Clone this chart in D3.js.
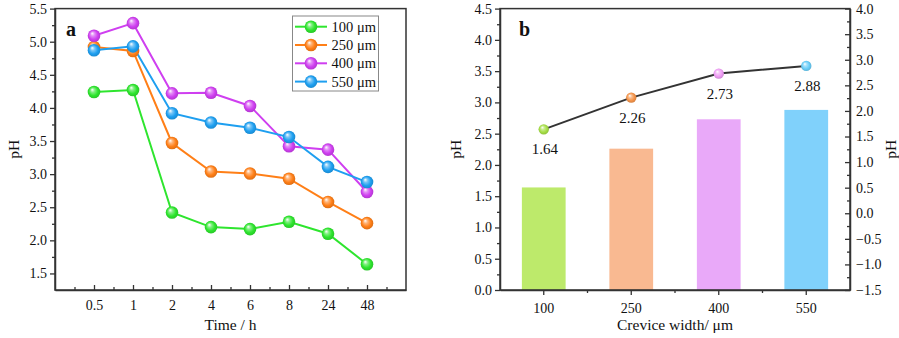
<!DOCTYPE html>
<html><head><meta charset="utf-8">
<script src="https://cdn.jsdelivr.net/npm/d3@7"></script>
<style>
body{margin:0;background:#fff;}
svg, svg text{font-family:"Liberation Serif","Tinos","Times New Roman","DejaVu Serif",serif !important;}
</style></head>
<body><svg id="c" width="899" height="338"></svg>
<script>
// ---------- data ----------
const timeLabels = ["0.5","1","2","4","6","8","24","48"];
const seriesNames = ["100 μm","250 μm","400 μm","550 μm"];
const ph100 = [4.24,4.27,2.42,2.20,2.17,2.28,2.10,1.64];
const ph250 = [4.92,4.86,3.47,3.04,3.01,2.93,2.58,2.26];
const ph400 = [5.09,5.28,4.22,4.23,4.03,3.42,3.37,2.73];
const ph550 = [4.87,4.93,3.92,3.78,3.70,3.56,3.11,2.88];
const widthCats = ["100","250","400","550"];
const finalPH = [1.64,2.26,2.73,2.88];

const lineColors = ["#2ee52e","#ff7f17","#cf3ff0","#1e9ff0"];
const barColors = ["#bdea6b","#f9b991","#e9a9f9","#80d1fb"];
const dotColors = ["#a5de45","#f5944a","#ee9cf4","#68cdf8"];
const axisColor = "#333";

const svg = d3.select("#c");
const defs = svg.append("defs");
function sphereGrad(id, col){
  const g = defs.append("radialGradient").attr("id",id)
    .attr("cx","50%").attr("cy","50%").attr("r","55%").attr("fx","35%").attr("fy","30%");
  g.append("stop").attr("offset","0%").attr("stop-color","#ffffff");
  g.append("stop").attr("offset","30%").attr("stop-color",d3.interpolateRgb("#fff",col)(0.6));
  g.append("stop").attr("offset","65%").attr("stop-color",col);
  g.append("stop").attr("offset","100%").attr("stop-color",d3.color(col).darker(0.5));
}
lineColors.forEach((c,i)=>sphereGrad("ga"+i,c));
dotColors.forEach((c,i)=>sphereGrad("gb"+i,c));

// ---------- Panel a ----------
const A = {l:55, r:406, t:8.6, b:290};
const xa = d3.scaleLinear().domain([0, timeLabels.length+1]).range([A.l, A.r]);
const ya = d3.scaleLinear().domain([1.25, 5.5]).range([A.b, A.t]);
const ga = svg.append("g");

function styleAxis(g){
  g.attr("font-family",null);
  g.selectAll("path").attr("stroke",axisColor).attr("stroke-width",1.5);
  g.selectAll("line").attr("stroke",axisColor).attr("stroke-width",1.3);
  g.selectAll("text").attr("fill","#111").attr("font-size",14);
}

// frame
ga.append("rect").attr("x",A.l).attr("y",A.t).attr("width",A.r-A.l).attr("height",A.b-A.t)
  .attr("fill","none").attr("stroke",axisColor).attr("stroke-width",1.5);

// y axis (outward ticks)
const yaMajor = d3.range(1.5, 5.51, 0.5);
const yaMinor = d3.range(1.75, 5.3, 0.5);
const yAxA = ga.append("g").attr("transform",`translate(${A.l},0)`)
  .call(d3.axisLeft(ya).tickValues(yaMajor).tickFormat(d3.format(".1f")).tickSize(5).tickPadding(3).tickSizeOuter(0));
styleAxis(yAxA);
ga.append("g").attr("transform",`translate(${A.l},0)`)
  .call(d3.axisLeft(ya).tickValues(yaMinor).tickFormat("").tickSize(3).tickSizeOuter(0))
  .call(g=>{g.select("path").remove(); styleAxis(g);});

// x axis (inward ticks)
const xaMajor = d3.range(1, timeLabels.length+1);
const xaMinor = d3.range(0.5, timeLabels.length+1, 1);
const xAxA = ga.append("g").attr("transform",`translate(0,${A.b})`)
  .call(d3.axisBottom(xa).tickValues(xaMajor).tickFormat(i=>timeLabels[i-1]).tickSizeInner(-5).tickSizeOuter(0).tickPadding(10));
styleAxis(xAxA);
ga.append("g").attr("transform",`translate(0,${A.b})`)
  .call(d3.axisBottom(xa).tickValues(xaMinor).tickFormat("").tickSizeInner(-3).tickSizeOuter(0))
  .call(g=>{g.select("path").remove(); styleAxis(g);});

// axis titles
ga.append("text").attr("x",(A.l+A.r)/2).attr("y",330).attr("text-anchor","middle")
  .attr("font-size",15.5).attr("fill","#111").text("Time / h");
ga.append("text").attr("transform",`translate(19,${(A.t+A.b)/2}) rotate(-90)`).attr("text-anchor","middle")
  .attr("font-size",15.5).attr("fill","#111").text("pH");
ga.append("text").attr("x",66).attr("y",36).attr("font-size",20).attr("font-weight","bold").attr("fill","#111").text("a");

// lines
const allSeries = [ph100, ph250, ph400, ph550];
const lineA = d3.line().x((d,i)=>xa(i+1)).y(d=>ya(d));
allSeries.forEach((s,k)=>{
  ga.append("path").datum(s).attr("d",lineA).attr("fill","none")
    .attr("stroke",lineColors[k]).attr("stroke-width",2);
});
allSeries.forEach((s,k)=>{
  ga.selectAll(null).data(s).enter().append("circle")
    .attr("cx",(d,i)=>xa(i+1)).attr("cy",d=>ya(d)).attr("r",6.3)
    .attr("fill",`url(#ga${k})`);
});

// legend
const lg = ga.append("g");
lg.append("rect").attr("x",292.5).attr("y",16).attr("width",86).attr("height",75)
  .attr("fill","#fff").attr("stroke","#888").attr("stroke-width",1);
seriesNames.forEach((n,k)=>{
  const yy = 26.7 + k*18.3;
  lg.append("line").attr("x1",295).attr("x2",327).attr("y1",yy).attr("y2",yy)
    .attr("stroke",lineColors[k]).attr("stroke-width",2);
  lg.append("circle").attr("cx",311).attr("cy",yy).attr("r",6.3).attr("fill",`url(#ga${k})`);
  lg.append("text").attr("x",331.5).attr("y",yy+5).attr("font-size",14.5).attr("fill","#111").text(n);
});

// ---------- Panel b ----------
const B = {l:500, r:850, t:8.6, b:290};
const xb = d3.scaleBand().domain(widthCats).range([B.l,B.r]).paddingInner(0.5).paddingOuter(0.25);
const ybL = d3.scaleLinear().domain([0,4.5]).range([B.b,B.t]);
const ybR = d3.scaleLinear().domain([-1.5,4.0]).range([B.b,B.t]);
const gb = svg.append("g");

// bars
gb.selectAll(null).data(finalPH).enter().append("rect")
  .attr("x",(d,i)=>xb(widthCats[i])).attr("width",xb.bandwidth())
  .attr("y",d=>ybL(d)).attr("height",d=>ybL(0)-ybL(d))
  .attr("fill",(d,i)=>barColors[i]);

// frame
gb.append("rect").attr("x",B.l).attr("y",B.t).attr("width",B.r-B.l).attr("height",B.b-B.t)
  .attr("fill","none").attr("stroke",axisColor).attr("stroke-width",1.5);

// left axis
const ybMajor = d3.range(0,4.51,0.5);
const ybMinor = d3.range(0.25,4.3,0.5);
const yAxBL = gb.append("g").attr("transform",`translate(${B.l},0)`)
  .call(d3.axisLeft(ybL).tickValues(ybMajor).tickFormat(d3.format(".1f")).tickSize(5).tickPadding(3).tickSizeOuter(0));
styleAxis(yAxBL);
gb.append("g").attr("transform",`translate(${B.l},0)`)
  .call(d3.axisLeft(ybL).tickValues(ybMinor).tickFormat("").tickSize(3).tickSizeOuter(0))
  .call(g=>{g.select("path").remove(); styleAxis(g);});

// right axis (inward ticks)
const yrMajor = d3.range(-1.5,4.01,0.5);
const yrMinor = d3.range(-1.25,3.8,0.5);
const fmtR = d=>d3.format(".1f")(d).replace("-","−");
const yAxBR = gb.append("g").attr("transform",`translate(${B.r},0)`)
  .call(d3.axisRight(ybR).tickValues(yrMajor).tickFormat(fmtR).tickSizeInner(-5).tickSizeOuter(0).tickPadding(6));
styleAxis(yAxBR);
gb.append("g").attr("transform",`translate(${B.r},0)`)
  .call(d3.axisRight(ybR).tickValues(yrMinor).tickFormat("").tickSizeInner(-3).tickSizeOuter(0))
  .call(g=>{g.select("path").remove(); styleAxis(g);});

// bottom axis
const xAxB = gb.append("g").attr("transform",`translate(0,${B.b})`)
  .call(d3.axisBottom(xb).tickSize(5).tickSizeOuter(0).tickPadding(8));
styleAxis(xAxB);
gb.append("g").selectAll("line").data(widthCats.slice(0,-1)).enter().append("line")
  .attr("x1",c=>xb(c)+xb.bandwidth()/2+xb.step()/2).attr("x2",c=>xb(c)+xb.bandwidth()/2+xb.step()/2)
  .attr("y1",B.b).attr("y2",B.b+3).attr("stroke",axisColor).attr("stroke-width",1.3);

// titles
gb.append("text").attr("x",(B.l+B.r)/2).attr("y",330).attr("text-anchor","middle")
  .attr("font-size",15.5).attr("fill","#111").text("Crevice width/ μm");
gb.append("text").attr("transform",`translate(461,${(B.t+B.b)/2}) rotate(-90)`).attr("text-anchor","middle")
  .attr("font-size",15.5).attr("fill","#111").text("pH");
gb.append("text").attr("transform",`translate(896,${(B.t+B.b)/2}) rotate(-90)`).attr("text-anchor","middle")
  .attr("font-size",15.5).attr("fill","#111").text("pH");
gb.append("text").attr("x",519).attr("y",36).attr("font-size",20).attr("font-weight","bold").attr("fill","#111").text("b");

// line on right axis
const cx = c=>xb(c)+xb.bandwidth()/2;
const lineB = d3.line().x((d,i)=>cx(widthCats[i])).y(d=>ybR(d));
gb.append("path").datum(finalPH).attr("d",lineB).attr("fill","none")
  .attr("stroke","#333").attr("stroke-width",2);
gb.selectAll(null).data(finalPH).enter().append("circle")
  .attr("cx",(d,i)=>cx(widthCats[i])).attr("cy",d=>ybR(d)).attr("r",5.2)
  .attr("fill",(d,i)=>`url(#gb${i})`);
gb.selectAll(null).data(finalPH).enter().append("text")
  .attr("x",(d,i)=>cx(widthCats[i])+1).attr("y",d=>ybR(d)+25)
  .attr("text-anchor","middle").attr("font-size",15).attr("fill","#111")
  .text(d=>d3.format(".2f")(d));
</script></body></html>
